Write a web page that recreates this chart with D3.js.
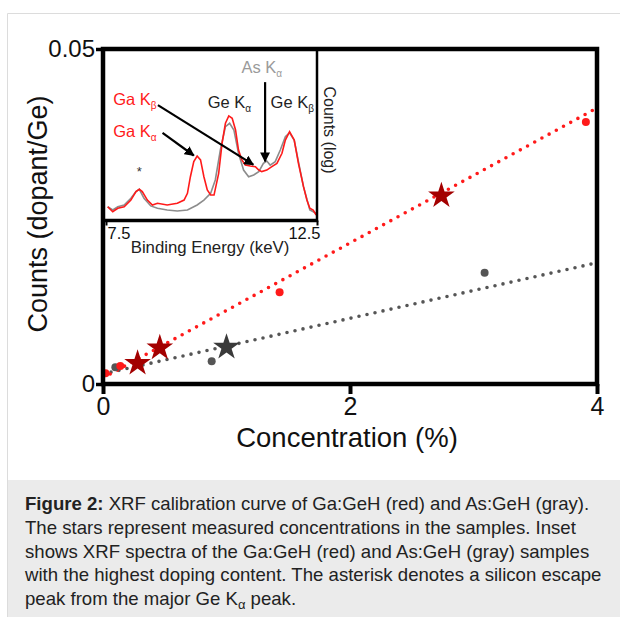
<!DOCTYPE html>
<html>
<head>
<meta charset="utf-8">
<script src="https://cdn.jsdelivr.net/npm/d3@7"></script>
<style>
body { margin: 0; background: #fff; }
text { font-family: "Liberation Sans", Arial, sans-serif; }
</style>
</head>
<body>
<script>
// calibration curve (main plot)
const fitX = [0, 4];
const gaFit = [0.0009, 0.0412];
const asFit = [0.0015, 0.0181];
const gaStdX = [0.02, 0.14, 1.43, 3.91];
const gaStdY = [0.0016, 0.0027, 0.0137, 0.0391];
const gaSampleX = [0.28, 0.46, 2.74];
const gaSampleY = [0.0031, 0.0054, 0.0281];
const asStdX = [0.10, 0.88, 3.09];
const asStdY = [0.0025, 0.0034, 0.0166];
const asSampleX = [1.00];
const asSampleY = [0.0055];
const xTicks = [0, 2, 4];
const yTicks = [0, 0.05];

// inset spectra (counts on log scale, relative units)
const gaE = [7.54, 7.66, 7.78, 7.93, 8.09, 8.21, 8.29, 8.36, 8.48, 8.60, 8.72, 8.95, 9.19, 9.35, 9.43, 9.50, 9.58, 9.66, 9.74, 9.82, 9.90, 9.98, 10.06, 10.17, 10.25, 10.33, 10.41, 10.49, 10.57, 10.64, 10.72, 10.80, 10.92, 11.04, 11.12, 11.19, 11.31, 11.43, 11.55, 11.67, 11.75, 11.85, 11.96, 12.06, 12.18, 12.26, 12.33, 12.41, 12.48];
const gaCounts = [0.109, 0.071, 0.097, 0.109, 0.160, 0.224, 0.242, 0.224, 0.160, 0.122, 0.135, 0.122, 0.135, 0.160, 0.211, 0.338, 0.453, 0.496, 0.466, 0.338, 0.237, 0.198, 0.198, 0.364, 0.593, 0.746, 0.802, 0.784, 0.695, 0.542, 0.466, 0.427, 0.420, 0.415, 0.389, 0.377, 0.389, 0.415, 0.440, 0.517, 0.618, 0.682, 0.618, 0.440, 0.262, 0.160, 0.097, 0.084, 0.046];
const asE = [7.54, 7.66, 7.78, 7.93, 8.09, 8.21, 8.29, 8.40, 8.56, 8.72, 8.95, 9.19, 9.43, 9.66, 9.82, 9.98, 10.09, 10.21, 10.33, 10.43, 10.53, 10.64, 10.76, 10.88, 11.00, 11.12, 11.23, 11.31, 11.39, 11.51, 11.63, 11.75, 11.85, 11.96, 12.06, 12.18, 12.33, 12.48];
const asCounts = [0.109, 0.084, 0.109, 0.122, 0.173, 0.224, 0.242, 0.173, 0.115, 0.097, 0.084, 0.076, 0.084, 0.122, 0.160, 0.211, 0.313, 0.542, 0.720, 0.746, 0.695, 0.517, 0.389, 0.338, 0.351, 0.377, 0.440, 0.458, 0.427, 0.453, 0.542, 0.644, 0.674, 0.618, 0.453, 0.262, 0.084, 0.059];
const insetTicks = [7.5, 12.5];

const captionLines = [
    [["Figure 2:", true], [" XRF calibration curve of Ga:GeH (red) and As:GeH (gray).", false]],
    [["The stars represent measured concentrations in the samples. Inset", false]],
    [["shows XRF spectra of the Ga:GeH (red) and As:GeH (gray) samples", false]],
    [["with the highest doping content. The asterisk denotes a silicon escape", false]],
    [["peak from the major Ge K", false]]
];

const width = 620, height = 617;

const svg = d3.select('body').append('svg')
    .attr('width', width)
    .attr('height', height);

// page frame + caption box
svg.append('path')
    .attr('d', `M7.5,${height} V13.5 H${width}`)
    .attr('fill', 'none')
    .attr('stroke', '#dcdcdc');
svg.append('rect')
    .attr('x', 8).attr('y', 480)
    .attr('width', width - 8).attr('height', height - 480)
    .attr('fill', '#ebebeb');

const x = d3.scaleLinear().domain([0, 4]).range([103, 597]);
const y = d3.scaleLinear().domain([0, 0.05]).range([384, 49]);

// inset scales
const ex = d3.scaleLinear().domain([7.5, 12.5]).range([106, 317]);
const ey = d3.scaleLinear().domain([0, 1]).range([221, 90]);

// ---- inset ----
const inset = svg.append('g');
inset.append('defs').append('clipPath').attr('id', 'insetClip')
    .append('rect').attr('x', 104).attr('y', 52).attr('width', 213).attr('height', 167);

const specLine = d3.line().x(d => ex(d[0])).y(d => ey(d[1]));
const spec = inset.append('g').attr('clip-path', 'url(#insetClip)');
spec.append('path')
    .attr('d', specLine(asE.map((e, i) => [e, asCounts[i]])))
    .attr('fill', 'none').attr('stroke', '#8c8c8c').attr('stroke-width', 1.6);
spec.append('path')
    .attr('d', specLine(gaE.map((e, i) => [e, gaCounts[i]])))
    .attr('fill', 'none').attr('stroke', '#ff1a1a').attr('stroke-width', 1.6);

// arrow head
svg.append('defs').append('marker')
    .attr('id', 'head')
    .attr('viewBox', '0 0 10 10')
    .attr('refX', 9).attr('refY', 5)
    .attr('markerWidth', 4.5).attr('markerHeight', 4.5)
    .attr('orient', 'auto')
    .append('path').attr('d', 'M0,0 L10,5 L0,10 Z').attr('fill', '#000');

const arrows = [
    [8.73, 0.885, 10.99, 0.43],
    [8.84, 0.672, 9.58, 0.50],
    [11.27, 1.06, 11.27, 0.455]
];
inset.selectAll('line.arrow')
    .data(arrows)
    .enter()
    .append('line')
    .attr('class', 'arrow')
    .attr('x1', d => ex(d[0])).attr('y1', d => ey(d[1]))
    .attr('x2', d => ex(d[2])).attr('y2', d => ey(d[3]))
    .attr('stroke', '#000').attr('stroke-width', 2.2)
    .attr('marker-end', 'url(#head)');

// peak labels
const peakLabels = [
    { t: 'As K', s: 'α', e: 10.71, c: 1.13, col: '#9a9a9a' },
    { t: 'Ge K', s: 'α', e: 9.91, c: 0.86, col: '#222' },
    { t: 'Ge K', s: 'β', e: 11.40, c: 0.86, col: '#222' },
    { t: 'Ga K', s: 'β', e: 7.67, c: 0.885, col: '#ff1a1a' },
    { t: 'Ga K', s: 'α', e: 7.67, c: 0.64, col: '#ff1a1a' }
];
peakLabels.forEach(p => {
    const t = inset.append('text')
        .attr('x', ex(p.e)).attr('y', ey(p.c))
        .attr('font-size', 16.5)
        .attr('fill', p.col)
        .text(p.t);
    t.append('tspan').attr('dy', 4).attr('font-size', 10).text(p.s);
});
inset.append('text')
    .attr('x', ex(8.29)).attr('y', ey(0.34))
    .attr('text-anchor', 'middle')
    .attr('font-size', 13)
    .attr('fill', '#333')
    .text('*');

// inset border (right + bottom)
inset.append('line')
    .attr('x1', 317).attr('x2', 317).attr('y1', 49).attr('y2', 222)
    .attr('stroke', '#000').attr('stroke-width', 2.5);

const insetAxis = inset.append('g')
    .attr('transform', 'translate(0,220.5)')
    .call(d3.axisBottom(ex).tickValues(insetTicks).tickSize(5).tickFormat(d3.format('.1f')));
insetAxis.select('.domain')
    .attr('d', 'M103,0 H318')
    .attr('stroke-width', 3.5);
insetAxis.selectAll('.tick line').attr('stroke-width', 2);
insetAxis.selectAll('.tick text')
    .attr('font-size', 16.5)
    .attr('fill', '#111')
    .attr('y', 7)
    .attr('text-anchor', (d, i) => i === 0 ? 'start' : 'end')
    .attr('dx', (d, i) => i === 0 ? 1 : 3);

inset.append('text')
    .attr('x', 210).attr('y', 253)
    .attr('text-anchor', 'middle')
    .attr('font-size', 16.8)
    .attr('fill', '#222')
    .text('Binding Energy (keV)');
inset.append('text')
    .attr('transform', 'translate(324,130) rotate(90)')
    .attr('text-anchor', 'middle')
    .attr('font-size', 16)
    .attr('fill', '#222')
    .text('Counts (log)');

// ---- main plot ----
const fitLine = d3.line().x(d => x(d[0])).y(d => y(d[1]));
svg.append('path')
    .attr('d', fitLine(fitX.map((v, i) => [v, asFit[i]])))
    .attr('fill', 'none')
    .attr('stroke', '#555')
    .attr('stroke-width', 3.6)
    .attr('stroke-linecap', 'round')
    .attr('stroke-dasharray', '0 8.2');
svg.append('path')
    .attr('d', fitLine(fitX.map((v, i) => [v, gaFit[i]])))
    .attr('fill', 'none')
    .attr('stroke', '#ff1a1a')
    .attr('stroke-width', 3.6)
    .attr('stroke-linecap', 'round')
    .attr('stroke-dasharray', '0 8.2');

svg.selectAll('circle.as')
    .data(asStdX)
    .enter()
    .append('circle')
    .attr('class', 'as')
    .attr('cx', d => x(d))
    .attr('cy', (d, i) => y(asStdY[i]))
    .attr('r', 4)
    .attr('fill', '#555');
svg.selectAll('circle.ga')
    .data(gaStdX)
    .enter()
    .append('circle')
    .attr('class', 'ga')
    .attr('cx', d => x(d))
    .attr('cy', (d, i) => y(gaStdY[i]))
    .attr('r', 4)
    .attr('fill', '#ff1a1a');

const star = d3.symbol().type(d3.symbolStar).size(14 * 14 / 0.8908);
svg.selectAll('path.asStar')
    .data(asSampleX)
    .enter()
    .append('path')
    .attr('class', 'asStar')
    .attr('d', star)
    .attr('transform', (d, i) => `translate(${x(d)},${y(asSampleY[i])})`)
    .attr('fill', '#3a3a3a');
svg.selectAll('path.gaStar')
    .data(gaSampleX)
    .enter()
    .append('path')
    .attr('class', 'gaStar')
    .attr('d', star)
    .attr('transform', (d, i) => `translate(${x(d)},${y(gaSampleY[i])})`)
    .attr('fill', '#a30000');

// frame
svg.append('rect')
    .attr('x', x(0)).attr('y', y(0.05))
    .attr('width', x(4) - x(0)).attr('height', y(0) - y(0.05))
    .attr('fill', 'none')
    .attr('stroke', '#000')
    .attr('stroke-width', 4.5);

const xAxis = svg.append('g')
    .attr('transform', `translate(0,${y(0)})`)
    .call(d3.axisBottom(x).tickValues(xTicks).tickSize(10).tickFormat(d3.format('d')));
xAxis.select('.domain').remove();
xAxis.selectAll('.tick line').attr('stroke-width', 4);
xAxis.selectAll('.tick text').attr('font-size', 25).attr('fill', '#111').attr('y', 13);

const yAxis = svg.append('g')
    .attr('transform', `translate(${x(0)},0)`)
    .call(d3.axisLeft(y).tickValues(yTicks).tickSize(7).tickFormat(d => d === 0 ? '0' : '0.05'));
yAxis.select('.domain').remove();
yAxis.selectAll('.tick line').attr('stroke-width', 3.5);
yAxis.selectAll('.tick text').attr('font-size', 24).attr('fill', '#111').attr('x', -8);

svg.append('text')
    .attr('x', 347).attr('y', 447)
    .attr('text-anchor', 'middle')
    .attr('font-size', 27.5)
    .attr('fill', '#111')
    .text('Concentration (%)');
svg.append('text')
    .attr('transform', 'translate(47,214) rotate(-90)')
    .attr('text-anchor', 'middle')
    .attr('font-size', 27)
    .attr('fill', '#111')
    .text('Counts (dopant/Ge)');

// ---- caption ----
captionLines.forEach((line, i) => {
    const t = svg.append('text')
        .attr('x', 25).attr('y', 510 + i * 23.8)
        .attr('font-size', 18.6)
        .attr('fill', '#222');
    line.forEach(seg => {
        t.append('tspan').attr('font-weight', seg[1] ? 'bold' : null).text(seg[0]);
    });
    if (i === captionLines.length - 1) {
        t.append('tspan').attr('dy', 4).attr('font-size', 13).text('α');
        t.append('tspan').attr('dy', -4).text(' peak.');
    }
});
</script>
</body>
</html>
